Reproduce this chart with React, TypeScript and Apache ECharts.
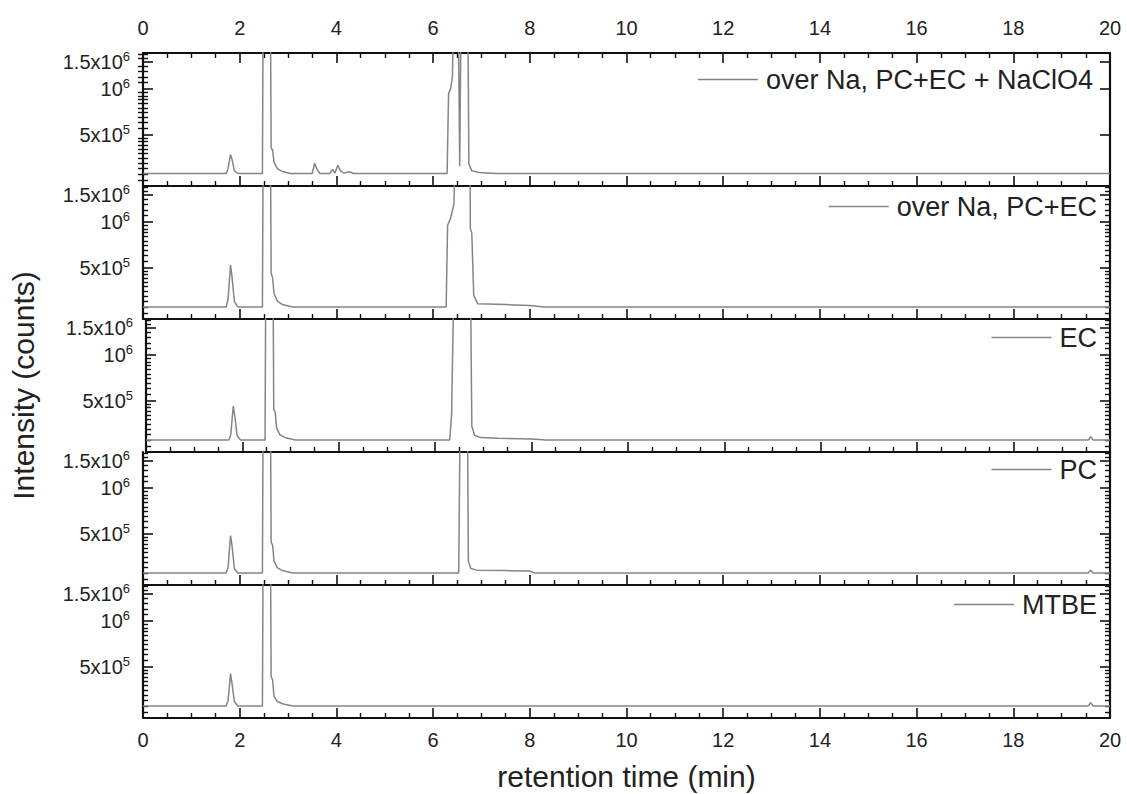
import React, { useEffect, useRef } from "react";
import * as echarts from "echarts";

// ---- data (retention time in min, intensity in counts) ----
const seriesNames = [
  "over Na, PC+EC + NaClO4",
  "over Na, PC+EC",
  "EC",
  "PC",
  "MTBE",
];

const timeNaClO4 = [0, 1.72, 1.76, 1.81, 1.84, 1.89, 1.96, 2.47, 2.49, 2.63, 2.65, 2.68, 2.71, 2.78, 2.9, 3.05, 3.5, 3.55, 3.6, 3.66, 3.86, 3.92, 3.97, 4.03, 4.08, 4.15, 4.28, 4.35, 6.29, 6.32, 6.36, 6.4, 6.45, 6.51, 6.55, 6.59, 6.71, 6.74, 6.8, 6.95, 7.3, 20];
const countsNaClO4 = [2.78e5, 2.78e5, 3.0e5, 3.7e5, 3.45e5, 2.9e5, 2.78e5, 2.78e5, 8e6, 8e6, 4.1e5, 3.95e5, 3.3e5, 2.98e5, 2.85e5, 2.78e5, 2.78e5, 3.25e5, 2.95e5, 2.78e5, 2.78e5, 2.95e5, 2.8e5, 3.15e5, 2.9e5, 2.8e5, 2.85e5, 2.78e5, 2.78e5, 9.3e5, 1.0e6, 1.2e6, 8e6, 8e6, 3.1e5, 8e6, 8e6, 3.2e5, 2.9e5, 2.82e5, 2.78e5, 2.78e5];

const timePCEC = [0, 1.72, 1.76, 1.81, 1.84, 1.89, 1.96, 2.47, 2.49, 2.63, 2.65, 2.68, 2.71, 2.78, 2.9, 3.1, 6.27, 6.3, 6.36, 6.43, 6.5, 6.76, 6.77, 6.8, 6.84, 6.92, 7.5, 8.0, 8.3, 20];
const countsPCEC = [2.76e5, 2.76e5, 3.1e5, 5.2e5, 4.4e5, 3.0e5, 2.76e5, 2.76e5, 8e6, 8e6, 4.6e5, 4.3e5, 3.4e5, 3.0e5, 2.85e5, 2.76e5, 2.76e5, 9.5e5, 1.05e6, 1.3e6, 8e6, 8e6, 9.0e5, 8.5e5, 3.3e5, 2.9e5, 2.86e5, 2.82e5, 2.76e5, 2.76e5];

const timeEC = [0, 1.72, 1.76, 1.81, 1.84, 1.89, 1.96, 2.47, 2.49, 2.63, 2.65, 2.68, 2.71, 2.78, 2.9, 3.1, 6.3, 6.34, 6.41, 6.72, 6.76, 6.82, 6.95, 7.3, 8.0, 8.3, 19.55, 19.6, 19.65, 20];
const countsEC = [2.76e5, 2.76e5, 3.0e5, 4.6e5, 4.0e5, 2.95e5, 2.76e5, 2.76e5, 8e6, 8e6, 4.4e5, 4.2e5, 3.3e5, 2.98e5, 2.85e5, 2.76e5, 2.76e5, 4e5, 8e6, 8e6, 3.4e5, 2.95e5, 2.86e5, 2.83e5, 2.8e5, 2.76e5, 2.76e5, 2.9e5, 2.76e5, 2.76e5];

const timePC = [0, 1.72, 1.76, 1.81, 1.84, 1.89, 1.96, 2.47, 2.49, 2.63, 2.65, 2.68, 2.71, 2.78, 2.9, 3.1, 6.53, 6.57, 6.7, 6.73, 6.78, 6.9, 7.5, 8.0, 8.1, 19.55, 19.6, 19.65, 20];
const countsPC = [2.76e5, 2.76e5, 3.0e5, 4.85e5, 4.2e5, 2.95e5, 2.76e5, 2.76e5, 8e6, 8e6, 4.4e5, 4.2e5, 3.3e5, 2.98e5, 2.85e5, 2.76e5, 2.76e5, 8e6, 8e6, 3.3e5, 2.95e5, 2.88e5, 2.86e5, 2.84e5, 2.76e5, 2.76e5, 2.88e5, 2.76e5, 2.76e5];

const timeMTBE = [0, 1.72, 1.76, 1.81, 1.84, 1.89, 1.96, 2.47, 2.49, 2.63, 2.65, 2.68, 2.71, 2.78, 2.9, 3.1, 19.55, 19.6, 19.65, 20];
const countsMTBE = [2.76e5, 2.76e5, 3.0e5, 4.5e5, 3.9e5, 2.95e5, 2.76e5, 2.76e5, 8e6, 8e6, 4.3e5, 4.1e5, 3.2e5, 2.95e5, 2.84e5, 2.76e5, 2.76e5, 2.9e5, 2.76e5, 2.76e5];

const panelTimes = [timeNaClO4, timePCEC, timeEC, timePC, timeMTBE];
const panelCounts = [countsNaClO4, countsPCEC, countsEC, countsPC, countsMTBE];

const yMajorTicks = [5e5, 1e6, 1.5e6];
const yMajorLabels = ["{m|5x10}{s|5}", "{m|10}{s|6}", "{m|1.5x10}{s|6}"];
const yMinorTicks = [2.5e5, 2.75e5, 3e5, 3.25e5, 3.5e5, 3.75e5, 4e5, 4.25e5, 4.5e5, 4.75e5, 5.5e5, 6e5, 6.5e5, 7e5, 7.5e5, 8e5, 8.5e5, 9e5, 9.5e5, 1.1e6, 1.2e6, 1.3e6, 1.4e6, 1.6e6, 1.7e6];
const yMin = 2.3e5;
const yMax = 1.72e6;

const FONT = "'Liberation Sans', Arial, Helvetica, sans-serif";
const AXIS_COLOR = "#111";
const LINE_COLOR = "#858585";

export default function App() {
  const ref = useRef<HTMLDivElement>(null);

  useEffect(() => {
    document.body.style.margin = "0";
    if (!ref.current) return;
    const chart = echarts.init(ref.current, undefined, { renderer: "svg" });

    const top0 = 53;
    const h = 133;
    const legendTops = [66, 193, 324, 456, 591];
    const legendRights = [34, 30, 30, 30, 30];

    const grids = [0, 1, 2, 3, 4].map((i) => ({
      left: 143,
      right: 17,
      top: top0 + i * h,
      height: h,
      containLabel: false,
    }));

    const xAxes: any[] = [0, 1, 2, 3, 4].map((i) => ({
      type: "value",
      gridIndex: i,
      min: 0,
      max: 20,
      interval: 2,
      position: "bottom",
      name: i === 4 ? "retention time (min)" : "",
      nameLocation: "middle",
      nameGap: 43,
      nameTextStyle: { fontSize: 30, color: "#222", fontFamily: FONT },
      axisLine: { show: true, onZero: false, lineStyle: { color: AXIS_COLOR, width: 2 } },
      axisTick: { show: true, inside: true, length: 10, lineStyle: { color: AXIS_COLOR, width: 1.6 } },
      minorTick: { show: true, splitNumber: 4, length: 5, lineStyle: { color: AXIS_COLOR, width: 1.4 } },
      splitLine: { show: false },
      axisLabel: { show: i === 4, margin: 12, fontSize: 20, color: "#222", fontFamily: FONT },
    }));
    xAxes.push({
      type: "value",
      gridIndex: 0,
      min: 0,
      max: 20,
      interval: 2,
      position: "top",
      axisLine: { show: true, onZero: false, lineStyle: { color: AXIS_COLOR, width: 2 } },
      axisTick: { show: true, inside: true, length: 10, lineStyle: { color: AXIS_COLOR, width: 1.6 } },
      minorTick: { show: true, splitNumber: 4, length: 5, lineStyle: { color: AXIS_COLOR, width: 1.4 } },
      splitLine: { show: false },
      axisLabel: { show: true, margin: 15, fontSize: 20, color: "#222", fontFamily: FONT },
    });

    const yAxes: any[] = [];
    for (let i = 0; i < 5; i++) {
      const base = {
        type: "log",
        gridIndex: i,
        min: yMin,
        max: yMax,
        logBase: 10,
        splitLine: { show: false },
        minorTick: { show: false },
      };
      // left major
      yAxes.push({
        ...base,
        position: "left",
        name: i === 2 ? "Intensity (counts)" : "",
        nameLocation: "middle",
        nameGap: 108,
        nameTextStyle: { fontSize: 30, color: "#222", fontFamily: FONT },
        axisLine: { show: true, onZero: false, lineStyle: { color: AXIS_COLOR, width: 2.2 } },
        axisTick: { show: true, inside: true, length: 10, customValues: yMajorTicks, lineStyle: { color: AXIS_COLOR, width: 1.6 } },
        axisLabel: {
          show: true,
          customValues: yMajorTicks,
          margin: 13,
          formatter: (v: number) => {
            let best = 0;
            for (let k = 1; k < yMajorTicks.length; k++) {
              if (Math.abs(yMajorTicks[k] - v) < Math.abs(yMajorTicks[best] - v)) best = k;
            }
            return yMajorLabels[best];
          },
          rich: {
            m: { fontSize: 20, color: "#222", fontFamily: FONT, lineHeight: 24 },
            s: { fontSize: 13, color: "#222", fontFamily: FONT, lineHeight: 24, verticalAlign: "top" },
          },
        },
      });
      // left minor
      yAxes.push({
        ...base,
        position: "left",
        axisLine: { show: false },
        axisTick: { show: true, inside: true, length: 5, customValues: yMinorTicks, lineStyle: { color: AXIS_COLOR, width: 1.4 } },
        axisLabel: { show: false },
      });
      // right major
      yAxes.push({
        ...base,
        position: "right",
        axisLine: { show: true, onZero: false, lineStyle: { color: AXIS_COLOR, width: 2.2 } },
        axisTick: { show: true, inside: true, length: 10, customValues: yMajorTicks, lineStyle: { color: AXIS_COLOR, width: 1.6 } },
        axisLabel: { show: false },
      });
      // right minor
      yAxes.push({
        ...base,
        position: "right",
        axisLine: { show: false },
        axisTick: { show: true, inside: true, length: 5, customValues: yMinorTicks, lineStyle: { color: AXIS_COLOR, width: 1.4 } },
        axisLabel: { show: false },
      });
    }

    const series = seriesNames.map((name, i) => ({
      name,
      type: "line",
      xAxisIndex: i,
      yAxisIndex: i * 4,
      data: panelTimes[i].map((t, k) => [t, panelCounts[i][k]]),
      symbol: "none",
      showSymbol: false,
      clip: true,
      lineStyle: { color: LINE_COLOR, width: 1.5 },
      itemStyle: { color: LINE_COLOR },
    }));

    const legends = seriesNames.map((name, i) => ({
      data: [name],
      top: legendTops[i],
      right: legendRights[i],
      padding: 0,
      icon: "rect",
      itemWidth: 60,
      itemHeight: 1.5,
      selectedMode: false,
      itemStyle: { color: LINE_COLOR },
      textStyle: { fontSize: 27, color: "#222", fontFamily: FONT, padding: [0, 0, 0, 3] },
    }));

    chart.setOption({
      animation: false,
      backgroundColor: "#fff",
      grid: grids,
      xAxis: xAxes,
      yAxis: yAxes,
      legend: legends,
      series,
    });

    return () => chart.dispose();
  }, []);

  return <div ref={ref} style={{ width: 1127, height: 794 }} />;
}
